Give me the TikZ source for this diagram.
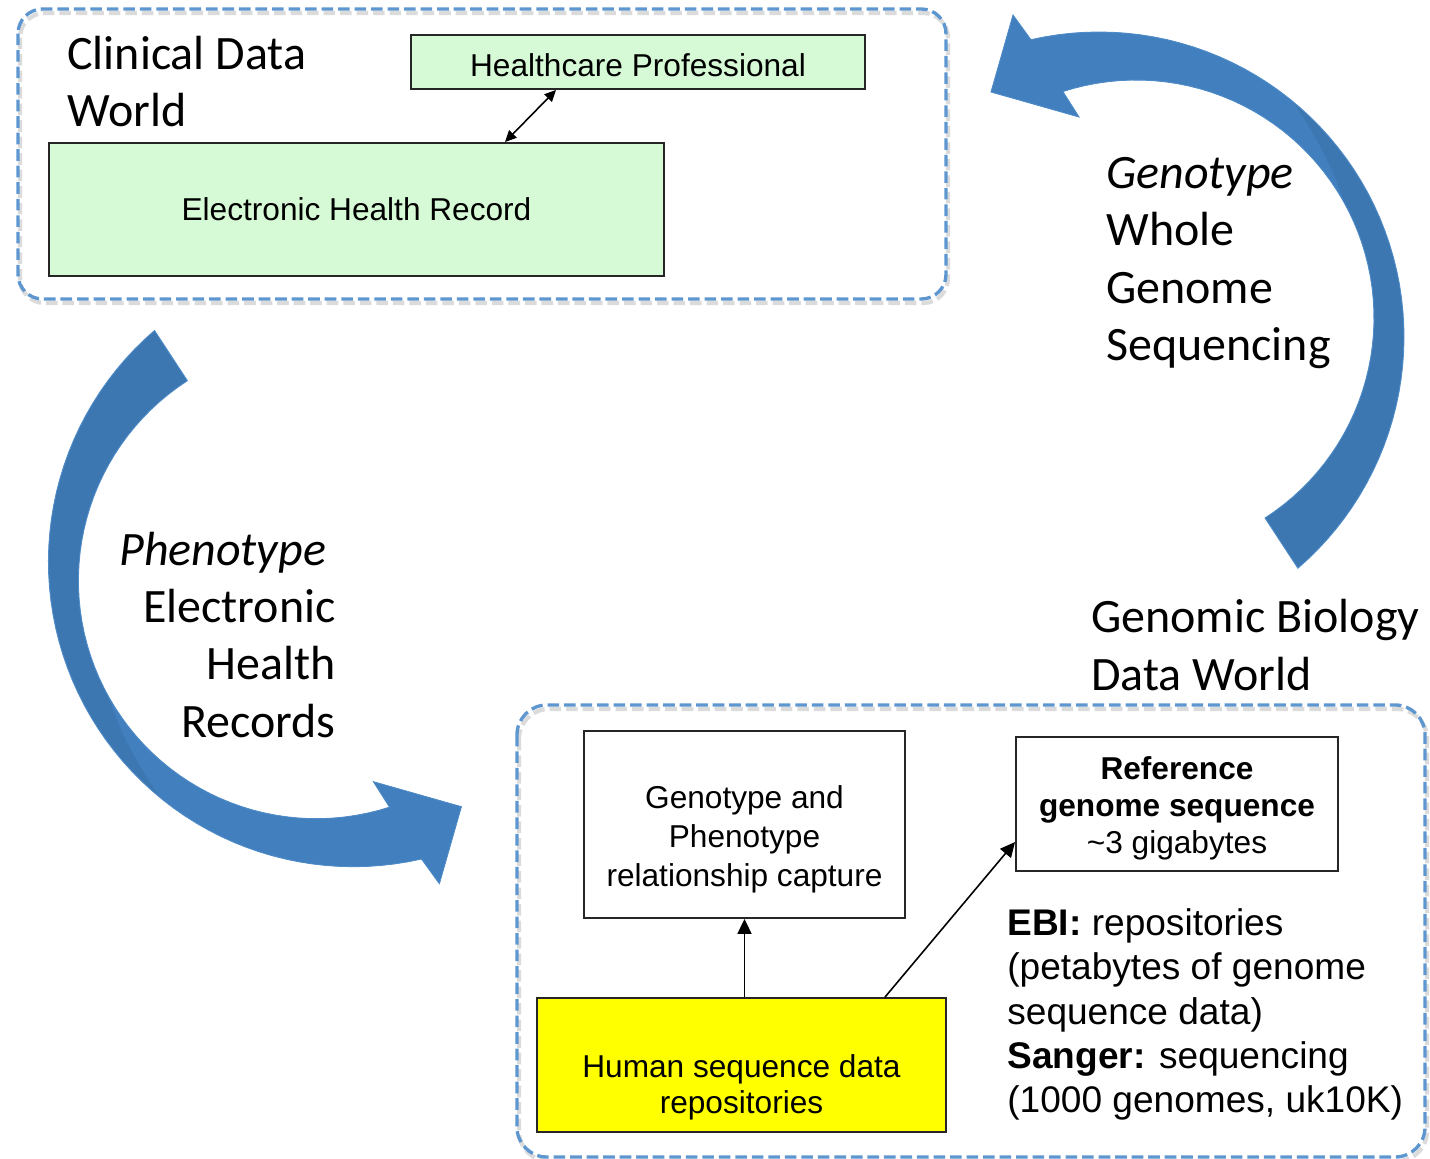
\documentclass[tikz,border=0pt]{standalone}
\usepackage{fontspec}
\setmainfont{Liberation Sans}
\newfontfamily\labelfont{Carlito}
\usetikzlibrary{calc,arrows.meta}

\definecolor{framecol}{RGB}{94,150,208}
\definecolor{arrowdark}{RGB}{60,119,178}
\definecolor{arrowlight}{RGB}{65,127,191}
\definecolor{arrowedge}{RGB}{80,140,200}
\definecolor{ehrgreen}{RGB}{214,250,214}
\definecolor{repoyellow}{RGB}{255,255,0}

\tikzset{
  worldframe/.style={draw=framecol, line width=1.9pt, dash pattern=on 6.6pt off 2.8pt},
  frameshadow/.style={draw=black, opacity=0.14, line width=2.4pt, dash pattern=on 6.6pt off 2.8pt},
  databox/.style={draw=black!85, line width=1.1pt, inner sep=0pt},
  boxtext/.style={inner sep=0pt, align=center},
  worldlabel/.style={inner sep=0pt, font=\labelfont\fontsize{27.3}{32.6}\selectfont},
  link/.style={line width=0.9pt, -{Triangle[length=8.5pt, width=8pt]}},
  twoway/.style={line width=0.9pt, {Triangle[length=6.5pt, width=6pt]}-{Triangle[length=6.5pt, width=6pt]}},
}

% One curved cycle arrow: tail at lower right, head at upper left.
\newcommand{\cyclearrow}{%
  % whole ribbon, darker tail side
  \fill[arrowdark] (1265,518)
    -- plot[domain=49.3:-102.9, samples=60] ({1099+305*cos(\x)},{337+305*sin(\x)})
    -- (1013,15) -- (991,92) -- (1079,117)
    -- plot[domain=-107.9:57.2, samples=60] ({1136+238*cos(\x)},{318+238*sin(\x)})
    -- cycle;
  % lighter head side, twisting over the tail side
  \fill[arrowlight]
    plot[domain=-50.8:-102.9, samples=30] ({1099+305*cos(\x)},{337+305*sin(\x)})
    -- (1013,15) -- (991,92) -- (1079,117)
    -- plot[domain=-107.9:-29.2, samples=40] ({1136+238*cos(\x)},{318+238*sin(\x)})
    .. controls (1335,172) and (1314,132) .. (1291.8,100.7) -- cycle;
  % outline
  \draw[arrowedge, line width=0.5pt, line join=miter] (1265,518)
    -- plot[domain=49.3:-102.9, samples=60] ({1099+305*cos(\x)},{337+305*sin(\x)})
    -- (1013,15) -- (991,92) -- (1079,117)
    -- plot[domain=-107.9:57.2, samples=60] ({1136+238*cos(\x)},{318+238*sin(\x)})
    -- cycle;
}

\begin{document}
\begin{tikzpicture}[x=0.02cm, y=-0.02cm]
  \useasboundingbox (0,0) rectangle (1430,1159);

  % ---- cycle arrows ----
  \cyclearrow
  \begin{scope}[rotate around={180:(726.2,449.35)}]
    \cyclearrow
  \end{scope}

  % ---- world frames ----
  \draw[frameshadow, rounded corners=14pt, shift={(2,4)}] (18,9) rectangle (946,299);
  \draw[worldframe, rounded corners=14pt] (18,9) rectangle (946,299);
  \draw[frameshadow, rounded corners=17pt, shift={(2,4)}] (517,705) rectangle (1425,1157);
  \draw[worldframe, rounded corners=17pt] (517,705) rectangle (1425,1157);

  % ---- clinical data world ----
  \node[worldlabel, anchor=west, align=left] (clinical) at (67,81.3)
    {Clinical Data\\World};
  \node[databox, fill=ehrgreen, minimum width=9.08cm, minimum height=1.08cm] (hp) at (638,62) {};
  \node[boxtext, font=\fontsize{18}{21.6}\selectfont] (hptext) at (638,65.5) {Healthcare Professional};
  \node[databox, fill=ehrgreen, minimum width=12.3cm, minimum height=2.66cm] (ehr) at (356.5,209.5) {};
  \node[boxtext, font=\fontsize{18}{21.6}\selectfont] (ehrtext) at (356.5,209.5) {Electronic Health Record};
  \draw[twoway] ($(ehr.north)+(148.5,0)$) -- ($(hp.south)+(-82,0)$);

  % ---- labels on the cycle arrows ----
  \node[worldlabel, anchor=west, align=left] (genotype) at (1106,263)
    {\itshape Genotype\\Whole\\Genome\\Sequencing};
  \node[worldlabel, anchor=east, align=right] (phenotype) at (336,634.8)
    {\itshape Phenotype\kern5.5pt\\Electronic\\Health\\Records};

  % ---- genomic biology data world ----
  \node[worldlabel, anchor=west, align=left] (genomic) at (1091,645)
    {Genomic Biology\\Data World};
  \node[databox, fill=white, minimum width=6.42cm, minimum height=3.74cm] (gp) at (744.5,824.5) {};
  \node[boxtext, font=\fontsize{18}{22.2}\selectfont] (gptext) at (744.5,839.8)
    {Genotype and\\Phenotype\\relationship capture};
  \node[databox, fill=white, minimum width=6.44cm, minimum height=2.68cm] (ref) at (1177,804) {};
  \node[boxtext, font=\fontsize{18}{21}\selectfont] (reftext) at (1177,808)
    {\bfseries Reference\\\bfseries genome sequence\\\textasciitilde 3 gigabytes};
  \node[databox, fill=repoyellow, minimum width=8.18cm, minimum height=2.68cm] (hsd) at (741.5,1065) {};
  \node[boxtext, font=\fontsize{18}{20.5}\selectfont] (hsdtext) at (741.5,1087)
    {Human sequence data\\repositories};
  \node[inner sep=0pt, anchor=west, align=left, font=\fontsize{21.1}{25.1}\selectfont] (centres) at (1007,1014.5)
    {\textbf{EBI:} repositories\\(petabytes of genome\\sequence data)\\\textbf{Sanger:} sequencing\\(1000 genomes, uk10K)};

  \draw[link] (gp.south |- hsd.north) -- (gp.south);
  \draw[link] ($(hsd.north)+(143.5,0)$) -- ($(ref.west)+(0,38)$);
\end{tikzpicture}
\end{document}
